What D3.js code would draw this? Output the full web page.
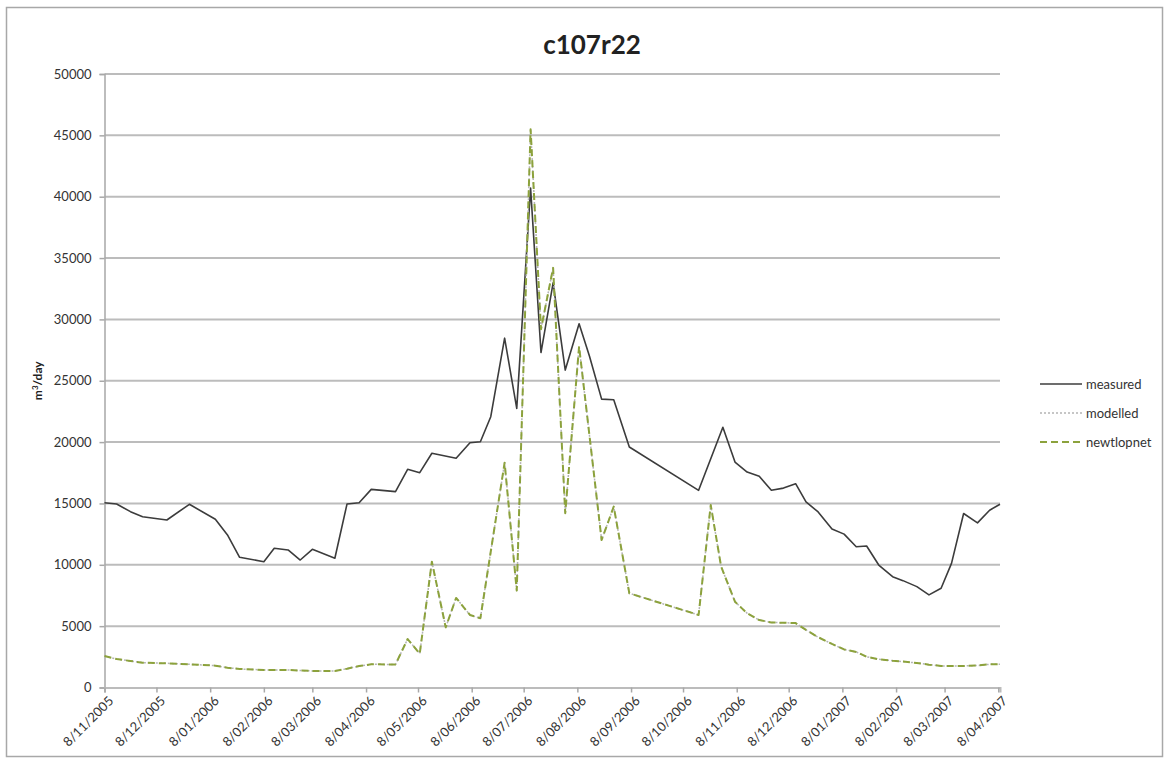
<!DOCTYPE html>
<html>
<head>
<meta charset="utf-8">
<script src="https://cdn.jsdelivr.net/npm/d3@7"></script>
<style>
  body { margin: 0; background: #fff; font-family: Lato, "Open Sans", sans-serif; }
  .tick text { fill: #333; }
</style>
</head>
<body>
<script>
// data: days after 8/11/2005, m3/day
var measuredDays = [0, 7, 15, 22, 36, 49, 64, 71, 78, 92, 98, 106, 113, 120, 133, 140, 147, 154, 168,
  175, 182, 189, 203, 211, 217, 223, 231, 238, 246, 252, 259, 266, 274, 280, 287, 294, 303,
  343, 357, 364, 371, 378, 385, 392, 399, 405, 412, 420, 427, 434, 440, 447, 455, 461, 469,
  476, 483, 489, 496, 504, 511, 517]
var measured = [15060, 14950, 14330, 13920, 13650, 14930, 13710, 12430, 10610, 10250, 11350, 11210, 10390, 11260, 10530, 14950, 15060, 16150, 15960,
  17780, 17510, 19090, 18680, 19950, 20030, 22070, 28470, 22750, 40700, 27300, 32980, 25870, 29650, 27000, 23500, 23450, 19600,
  16070, 21210, 18370, 17560, 17210, 16070, 16250, 16610, 15120, 14310, 12920, 12500, 11470, 11530, 9980, 9030, 8710, 8220,
  7550, 8090, 10120, 14180, 13420, 14450, 14940]

var modelDays = [0, 7, 15, 22, 36, 49, 64, 71, 78, 92, 98, 106, 113, 120, 133, 140, 147, 154, 168,
  175, 182, 189, 197, 203, 211, 217, 231, 238, 246, 252, 259, 266, 274, 287, 294, 303,
  343, 350, 356, 364, 371, 378, 385, 392, 399, 405, 412, 420, 427, 434, 440, 447, 455, 461, 469,
  476, 483, 489, 496, 504, 511, 517]
var modelled = [2570, 2320, 2160, 2020, 1970, 1890, 1780, 1610, 1510, 1430, 1430, 1430, 1380, 1350, 1350, 1530, 1750, 1890, 1880,
  3950, 2760, 10250, 4900, 7300, 5910, 5640, 18320, 7900, 45500, 29200, 34200, 14200, 27800, 12020, 14740, 7680,
  5910, 14870, 9850, 6990, 6050, 5500, 5300, 5280, 5250, 4690, 4100, 3550, 3100, 2900, 2500, 2300, 2180, 2110, 2000,
  1860, 1760, 1750, 1760, 1790, 1890, 1890]
// newtlopnet sits right on top of modelled
var newtlopnet = modelled.slice()

var xTickLabels = ["8/11/2005", "8/12/2005", "8/01/2006", "8/02/2006", "8/03/2006", "8/04/2006", "8/05/2006", "8/06/2006",
  "8/07/2006", "8/08/2006", "8/09/2006", "8/10/2006", "8/11/2006", "8/12/2006", "8/01/2007", "8/02/2007", "8/03/2007", "8/04/2007"]
var yTicks = [0, 5000, 10000, 15000, 20000, 25000, 30000, 35000, 40000, 45000, 50000]
var seriesNames = ["measured", "modelled", "newtlopnet"]

var margin = {top: 74, right: 170, bottom: 79.5, left: 104.5},
    width = 1170 - margin.left - margin.right,
    height = 767 - margin.top - margin.bottom;

var parseDate = d3.timeParse("%d/%m/%Y")
var start = parseDate(xTickLabels[0])

var svg = d3.select("body").append("svg")
    .attr("width", 1170)
    .attr("height", 767)

// chart frame
svg.append("rect")
    .attr("x", 6.5).attr("y", 7.5)
    .attr("width", 1156).attr("height", 749)
    .attr("fill", "#fff")
    .attr("stroke", "#a8a8a8")
    .attr("stroke-width", 1.5)

var g = svg.append("g")
    .attr("transform", "translate(" + margin.left + "," + margin.top + ")")

var x = d3.scaleTime()
    .domain([start, d3.timeDay.offset(start, 517)])
    .range([0, width])
var y = d3.scaleLinear()
    .domain([0, 50000])
    .range([height, 0])

// gridlines
g.selectAll(".grid")
    .data(yTicks.slice(1))
    .enter().append("line")
    .attr("x1", 0).attr("x2", width)
    .attr("y1", d => y(d)).attr("y2", d => y(d))
    .attr("stroke", "#bcbcbc")
    .attr("stroke-width", 2)

// y axis
var yAxis = g.append("g")
    .call(d3.axisLeft(y).tickValues(yTicks).tickSize(5).tickPadding(8).tickFormat(d3.format("d")))
yAxis.selectAll("line, path").attr("stroke", "#a8a8a8").attr("stroke-width", 1.5)
yAxis.selectAll("text").style("font-size", "13px").style("font-family", "Lato, sans-serif")

// x axis
var xAxis = g.append("g")
    .attr("transform", "translate(0," + height + ")")
    .call(d3.axisBottom(x).tickValues(xTickLabels.map(parseDate)).tickSize(5)
      .tickFormat(d3.timeFormat("%-d/%m/%Y")))
xAxis.select("path").attr("stroke", "#bcbcbc").attr("stroke-width", 2)
xAxis.selectAll("line").attr("stroke", "#a8a8a8").attr("stroke-width", 1.5)
xAxis.selectAll("text")
    .attr("x", 0).attr("y", 0).attr("dy", "0.35em")
    .attr("text-anchor", "end")
    .attr("transform", "translate(6,11) rotate(-45)")
    .style("font-size", "13px").style("font-family", "Lato, sans-serif")

// title
svg.append("text")
    .attr("x", 592).attr("y", 54)
    .attr("text-anchor", "middle")
    .style("font-family", "Lato, sans-serif")
    .style("font-weight", "bold")
    .style("font-size", "26px")
    .style("fill", "#222")
    .text("c107r22")

// y label
svg.append("text")
    .attr("transform", "translate(42," + (margin.top + height / 2) + ") rotate(-90)")
    .attr("text-anchor", "middle")
    .style("font-family", "Lato, sans-serif")
    .style("font-weight", "bold")
    .style("font-size", "12px")
    .style("fill", "#222")
    .html("m<tspan dy='-4' font-size='8px'>3</tspan><tspan dy='4'>/day</tspan>")

var line = d3.line()
    .x(d => x(d3.timeDay.offset(start, d[0])))
    .y(d => y(d[1]))

var styles = {
  measured: {stroke: "#3c3c3c", width: 1.6, dash: null},
  modelled: {stroke: "#b4b4b4", width: 1.5, dash: "2,2"},
  newtlopnet: {stroke: "#8ca23c", width: 2, dash: "7,4"}
}
var seriesData = {
  measured: d3.zip(measuredDays, measured),
  modelled: d3.zip(modelDays, modelled),
  newtlopnet: d3.zip(modelDays, newtlopnet)
}

seriesNames.forEach(function(name) {
  g.append("path")
    .datum(seriesData[name])
    .attr("fill", "none")
    .attr("stroke", styles[name].stroke)
    .attr("stroke-width", styles[name].width)
    .attr("stroke-dasharray", styles[name].dash)
    .attr("stroke-linejoin", "round")
    .attr("d", line)
})

// legend
var legend = svg.append("g").attr("transform", "translate(1040,384)")
seriesNames.forEach(function(name, i) {
  var row = legend.append("g").attr("transform", "translate(0," + i * 29 + ")")
  row.append("line")
    .attr("x1", 0).attr("x2", 42)
    .attr("stroke", styles[name].stroke)
    .attr("stroke-width", styles[name].width)
    .attr("stroke-dasharray", styles[name].dash)
  row.append("text")
    .attr("x", 46).attr("dy", "0.35em")
    .style("font-family", "Lato, sans-serif")
    .style("font-size", "13px")
    .style("fill", "#333")
    .text(name)
})
</script>
</body>
</html>
